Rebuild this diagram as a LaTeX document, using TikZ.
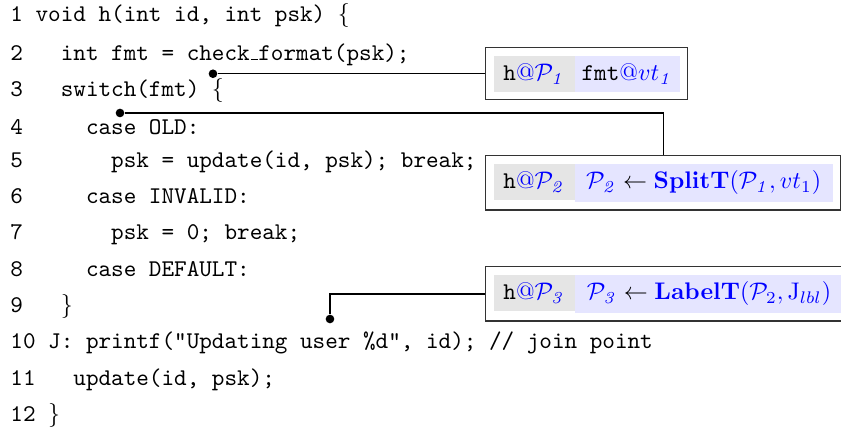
\documentclass[tikz,border=0pt]{standalone}
\usepackage{amsmath,amssymb}
\usepackage{xcolor}
\usepackage{tikz}

\newcommand{\graycell}[1]{\colorbox{gray!20}{\makebox[27.75pt]{\rule{0pt}{7.5pt}#1}}}
\newcommand{\bluecell}[2]{\colorbox{blue!10}{\makebox[#1]{\rule{0pt}{7.5pt}#2}}}
\newcommand{\usc}{\kern.06em\vrule height .4pt depth 0pt width .3em\relax}
\newcommand{\blueat}{\textcolor{blue}{@}}

\tikzset{
  codeline/.style={anchor=base west, inner sep=0pt, font=\ttfamily},
  infobox/.style={draw=black!80, line width=0.6pt, fill=white, inner sep=3.33pt, anchor=north west},
  tapdot/.style={circle, fill=black, inner sep=0pt, minimum size=3.6pt},
  link/.style={line width=0.5pt}
}

\begin{document}
\begin{tikzpicture}
\useasboundingbox (0, 0) rectangle (12.32, 6.328);
\clip (0, 0) rectangle (12.32, 6.328);

% the code
\node[codeline] (l1) at (0.146, 6.008) {1 void h(int id, int psk) $\{$};
\node[codeline] (l2) at (0.146, 5.449) {2~~~int fmt = check\usc format(psk);};
\node[codeline] (l3) at (0.146, 4.911) {3~~~switch(fmt) $\{$};
\node[codeline] (l4) at (0.146, 4.355) {4~~~~~case OLD:};
\node[codeline] (l5) at (0.146, 3.880) {5~~~~~~~psk = update(id, psk); break;};
\node[codeline] (l6) at (0.146, 3.348) {6~~~~~case INVALID:};
\node[codeline] (l7) at (0.146, 2.816) {7~~~~~~~psk = 0; break;};
\node[codeline] (l8) at (0.146, 2.284) {8~~~~~case DEFAULT:};
\node[codeline] (l9) at (0.146, 1.752) {9~~~$\}$};
\node[codeline] (l10) at (0.146, 1.220) {10 J: printf("Updating user \%d", id); // join point};
\node[codeline] (l11) at (0.146, 0.688) {11~~~update(id, psk);};
\node[codeline] (l12) at (0.146, 0.156) {12 $\}$};

% the boxes
\node[infobox] (b1) at (7.105, 5.639) {\graycell{\texttt{h}\blueat$\color{blue}\mathcal{P}_{\mathit{1}}$}%
  \bluecell{37.75pt}{\texttt{fmt}\blueat$\color{blue}vt_{\mathit{1}}$}};
\node[infobox] (b2) at (7.105, 4.057) {\graycell{\texttt{h}\blueat$\color{blue}\mathcal{P}_{\mathit{2}}$}%
  \bluecell{101.5pt}{$\textcolor{blue}{\mathcal{P}_{\mathit{2}}} \leftarrow \textcolor{blue}{\mathbf{SplitT}(\mathcal{P}_{\mathit{1}}, vt_1)}$}};
\node[infobox] (b3) at (7.105, 2.431) {\graycell{\texttt{h}\blueat$\color{blue}\mathcal{P}_{\mathit{3}}$}%
  \bluecell{106pt}{$\textcolor{blue}{\mathcal{P}_{\mathit{3}}} \leftarrow \textcolor{blue}{\mathbf{LabelT}(\mathcal{P}_2, \mathrm{J}_{lbl})}$}};

% the links
\node[tapdot] (d1) at (3.12, 0 |- b1.west) {};
\node[tapdot] (d2) at (1.758, 4.673) {};
\node[tapdot] (d3) at (4.834, 1.655) {};
\draw[link] (d1) -- (b1.west);
\draw[link] (d2) -| (b2.north);
\draw[link] (d3) |- (b3.west);
\end{tikzpicture}
\end{document}
